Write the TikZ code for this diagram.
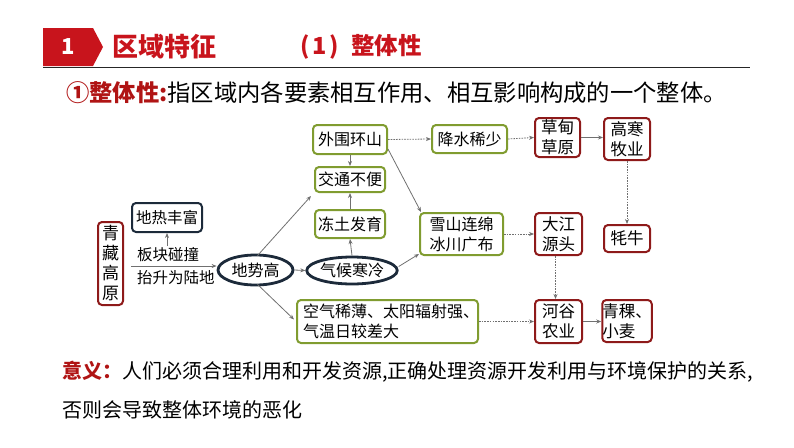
\documentclass[tikz,border=0pt]{standalone}
\usepackage{fontspec}
\setmainfont{Noto Sans CJK SC}
\usetikzlibrary{arrows.meta,shapes.geometric,calc}
\definecolor{hdrred}{HTML}{C8141C}
\definecolor{darkred}{HTML}{B01414}
\definecolor{gborder}{HTML}{809C30}
\definecolor{rborder}{HTML}{8E1A1A}
\definecolor{nborder}{HTML}{1C2A3A}
\definecolor{arrgray}{HTML}{707070}
\tikzset{
  gbox/.style={draw=gborder,line width=2pt,rounded corners=4pt,fill=white,inner sep=0pt,align=center,font=\fontsize{16}{20}\selectfont},
  rbox/.style={draw=rborder,line width=2pt,rounded corners=4pt,fill=white,inner sep=0pt,align=center,font=\fontsize{16.5}{20}\selectfont},
  nbox/.style={draw=nborder,line width=2pt,rounded corners=4pt,fill=white,inner sep=0pt,align=center,font=\fontsize{15.5}{19}\selectfont},
  nell/.style={ellipse,draw=nborder,line width=2.8pt,fill=white,inner sep=0pt,font=\fontsize{16}{19}\selectfont},
  lbl/.style={inner sep=0pt,anchor=west,font=\fontsize{15.5}{19}\selectfont},
  arr/.style={draw=arrgray,line width=0.8pt,-{Stealth[length=5pt,width=4pt]}},
  darr/.style={arr,dash pattern=on 1.6pt off 1.1pt},
}
\begin{document}
\begin{tikzpicture}[x=1pt,y=-1pt]
\useasboundingbox (0,0) rectangle (794,447);
% header
\fill[hdrred] (43,28) -- (93,28) -- (103,47) -- (93,66) -- (43,66) -- cycle;
\node[text=white,font=\fontsize{22}{24}\selectfont\bfseries,inner sep=0pt] (num) at (68,47) {1};
\draw[line width=1pt,black!85] (43,67) -- (750,67);
\node[text=hdrred,font=\fontsize{26}{28}\selectfont\bfseries,inner sep=0pt,anchor=west] (title) at (112,47) {区域特征};
\node[text=hdrred,font=\fontsize{23.5}{26}\selectfont\bfseries,inner sep=0pt,anchor=west] (sub) at (300,47) {(\hspace{3pt}1\hspace{3pt})\hspace{12pt}整体性};
\node[font=\fontsize{23.3}{26}\selectfont,inner sep=0pt,anchor=west] (def) at (66,93) {\textcolor{darkred}{\bfseries ①整体性:}指区域内各要素相互作用、相互影响构成的一个整体。};
% nodes
\node[rbox,minimum width=25,minimum height=83,font=\fontsize{17}{20}\selectfont] (qz) at (110.5,263.5) {青\\藏\\高\\原};
\node[nbox,minimum width=70,minimum height=29] (dr) at (167,217.5) {地热丰富};
\node[lbl] (l1) at (137,255) {板块碰撞};
\node[lbl] (l2) at (137,278) {抬升为陆地};
\node[nell,minimum width=75,minimum height=30] (dsg) at (255.5,270) {地势高};
\node[nell,minimum width=90,minimum height=27] (qh) at (352,270.5) {气候寒冷};
\node[gbox,minimum width=74,minimum height=29] (ww) at (350,139.5) {外围环山};
\node[gbox,minimum width=70,minimum height=25] (jt) at (350,179.5) {交通不便};
\node[gbox,minimum width=70,minimum height=28] (dt) at (350,224) {冻土发育};
\node[gbox,minimum height=43,text width=169,inner xsep=6pt,align=left] (kq) at (387.5,321.5) {空气稀薄、太阳辐射强、\\气温日较差大};
\node[gbox,minimum width=83,minimum height=42] (xs) at (461.5,234) {雪山连绵\\冰川广布};
\node[gbox,minimum width=75,minimum height=28] (js) at (469.5,139) {降水稀少};
\node[rbox,minimum width=45,minimum height=39] (cd) at (557.5,137.5) {草甸\\草原};
\node[rbox,minimum width=46,minimum height=42] (gh) at (627,139) {高寒\\牧业};
\node[rbox,minimum width=46,minimum height=27] (mn) at (627,238.5) {牦牛};
\node[rbox,minimum width=47,minimum height=42] (dj) at (558.5,234) {大江\\源头};
\node[rbox,minimum width=47,minimum height=43] (hg) at (558.5,321.5) {河谷\\农业};
\node[rbox,minimum width=46,minimum height=42,align=left] (qk) at (627,321) {青稞、\\小麦};
% arrows
\coordinate (a1) at ([xshift=7pt,yshift=-2.5pt]qz.east);
\draw[arr] (a1) -- (a1 -| dsg.west);
\coordinate (a2) at (167,246);
\draw[arr] (a2) -- (dr.south);
\draw[arr] (dsg.east) -- (qh.west);
\draw[arr] (qh.north) -- (dt.south);
\draw[arr] (dt.north) -- (jt.south);
\draw[arr] (ww.south) -- (jt.north);
\draw[arr] ([xshift=2pt,yshift=-2pt]dsg.north) -- ([xshift=-3pt,yshift=-3pt]jt.south west);
\draw[arr] ([xshift=2pt,yshift=2pt]dsg.south) -- ([xshift=-2pt,yshift=2pt]kq.west);
\draw[arr] ([yshift=4pt]qh.east) -- ([yshift=2pt]xs.south west);
\draw[arr] ([yshift=6pt]ww.south east) -- ([xshift=2pt]xs.north west);
\draw[darr] (ww.east) -- (js.west);
\draw[darr] (js.east) -- (cd.west);
\draw[arr] (cd.east) -- (cd.east -| gh.west);
\draw[darr] (gh.south) -- (mn.north);
\draw[darr] (xs.east) -- (dj.west);
\draw[darr] ([xshift=-3pt]dj.south) -- ([xshift=-3pt]hg.north);
\draw[darr] (kq.east) -- (kq.east -| hg.west);
\draw[arr] (hg.east) -- (hg.east -| qk.west);
% meaning
\node[font=\fontsize{20}{24}\selectfont,inner sep=0pt,anchor=west] (yy) at (62,372) {\textcolor{darkred}{\bfseries 意义：}人们必须合理利用和开发资源,正确处理资源开发利用与环境保护的关系,};
\node[font=\fontsize{20}{24}\selectfont,inner sep=0pt,anchor=west] (yy2) at (62,410) {否则会导致整体环境的恶化};
\end{tikzpicture}
\end{document}
